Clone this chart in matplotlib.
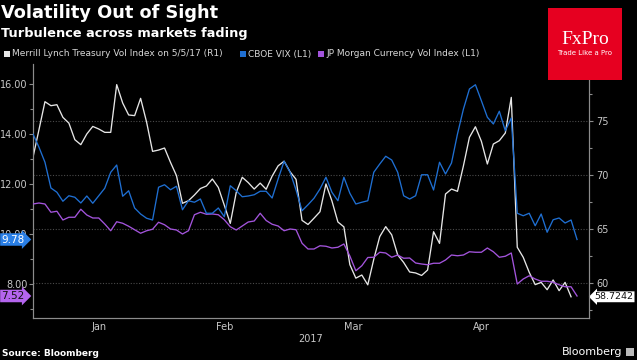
import matplotlib
matplotlib.use("Agg")
import matplotlib.pyplot as plt
from matplotlib.patches import Rectangle
from matplotlib.ticker import FixedLocator, NullFormatter

# ---- data (business-day index from 2 Jan 2017) ----
treasury_vol = [71.64, 74.2, 76.79, 76.42, 76.51, 75.34, 74.81, 73.27, 72.81, 73.8,
                74.5, 74.26, 73.95, 73.95, 78.37, 76.67, 75.56, 75.5, 77.1, 74.9,
                72.19, 72.31, 72.5, 71.17, 69.94, 67.38, 67.62, 68.15, 68.75, 68.98,
                69.63, 68.85, 67.2, 65.52, 68.4, 69.79, 69.3, 68.7, 69.25, 68.68,
                69.9, 70.85, 71.28, 70.3, 69.6, 65.8, 65.42, 66.0, 66.6, 69.17,
                67.6, 65.65, 65.2, 61.7, 60.45, 60.74, 59.83, 62.2, 64.3, 65.22,
                64.46, 62.6, 61.9, 61.02, 60.93, 60.7, 61.2, 64.75, 63.67, 68.24,
                68.7, 68.49, 70.86, 73.49, 74.47, 73.12, 71.02, 72.87, 73.18, 73.89,
                77.19, 63.31, 62.38, 60.99, 59.85, 60.06, 59.38, 60.28, 59.29, 60.06,
                58.7242]
vix = [14.0, 13.47, 12.87, 11.84, 11.67, 11.31, 11.53, 11.47, 11.24, 11.52,
       11.23, 11.53, 11.83, 12.47, 12.76, 11.51, 11.73, 11.04, 10.8, 10.63,
       10.56, 11.87, 11.97, 11.77, 11.91, 10.97, 11.33, 11.27, 11.4, 10.83,
       10.83, 11.04, 10.69, 11.93, 11.73, 11.49, 11.52, 11.57, 11.71, 11.71,
       11.44, 12.2, 12.91, 12.47, 11.76, 10.93, 11.17, 11.43, 11.8, 12.27,
       11.67, 11.33, 12.27, 11.63, 11.2, 11.27, 11.33, 12.47, 12.8, 13.11,
       12.96, 12.47, 11.53, 11.4, 11.53, 12.37, 12.37, 11.76, 12.87, 12.4,
       12.84, 14.0, 15.0, 15.8, 15.97, 15.33, 14.67, 14.4, 14.91, 14.13,
       14.64, 10.83, 10.73, 10.83, 10.33, 10.8, 10.07, 10.57, 10.64, 10.44,
       10.56, 9.78]
fx_vol = [11.2, 11.24, 11.2, 10.87, 10.91, 10.56, 10.67, 10.67, 10.99, 10.76,
          10.64, 10.64, 10.4, 10.13, 10.49, 10.43, 10.31, 10.17, 10.03, 10.13,
          10.19, 10.47, 10.37, 10.2, 10.16, 10.0, 10.13, 10.77, 10.87, 10.79,
          10.8, 10.77, 10.57, 10.29, 10.16, 10.32, 10.48, 10.52, 10.83, 10.54,
          10.39, 10.32, 10.13, 10.2, 10.17, 9.63, 9.4, 9.4, 9.53, 9.51,
          9.44, 9.47, 9.6, 9.12, 8.53, 8.73, 9.06, 9.07, 9.27, 9.24,
          9.07, 9.16, 9.03, 9.04, 8.84, 8.8, 8.77, 8.83, 8.83, 8.96,
          9.16, 9.13, 9.16, 9.29, 9.27, 9.27, 9.44, 9.29, 9.07, 9.11,
          9.24, 8.0, 8.2, 8.33, 8.2, 8.11, 8.11, 8.07, 7.97, 7.89,
          7.89, 7.52]
month_bounds = [22, 42, 65, 85]
month_centers = [11, 32, 53.5, 75]
month_labels = ["Jan", "Feb", "Mar", "Apr"]
left_ticks = [8, 10, 12, 14, 16]
left_minor = [7, 9, 11, 13, 15]
right_ticks = [60, 65, 70, 75]
right_minor = [57.5, 62.5, 67.5, 72.5, 77.5]

W, H = 637, 360
def fx(x): return x / W
def fy(y): return 1 - y / H

C_WHITE = "#e6e6e6"
C_BLUE = "#1f6fd2"
C_PURPLE = "#a354dc"
C_TICK = "#c8c8c8"
C_SPINE = "#8c8c8c"

fig = plt.figure(figsize=(W / 100, H / 100), dpi=100, facecolor="black")
ax2 = fig.add_axes([fx(33), fy(318), fx(589) - fx(33), fy(64) - fy(318)])
ax = ax2.twinx()
ax.set_zorder(ax2.get_zorder() + 1)
ax.patch.set_visible(False)
ax2.set_facecolor("black")

ax2.plot(range(len(treasury_vol)), treasury_vol, color=C_WHITE, lw=0.95, zorder=3)
ax.plot(range(len(fx_vol)), fx_vol, color=C_PURPLE, lw=0.95, zorder=3)
ax.plot(range(len(vix)), vix, color=C_BLUE, lw=0.95, zorder=4)

# ax carries the left (L1) scale, ax2 the right (R1) scale
ax.yaxis.tick_left()
ax.yaxis.set_label_position("left")
ax2.yaxis.tick_right()
ax2.yaxis.set_label_position("right")

ax.set_xlim(0, 93)
ax.set_ylim(6.64, 16.8)
ax2.set_ylim(56.76, 80.28)

for a in (ax, ax2):
    for s in a.spines.values():
        s.set_color(C_SPINE)
        s.set_linewidth(0.8)
    a.spines["top"].set_visible(False)

ax.yaxis.set_major_locator(FixedLocator(left_ticks))
ax.yaxis.set_minor_locator(FixedLocator(left_minor))
ax.set_yticklabels(["%.2f" % v for v in left_ticks])
ax.tick_params(axis="y", which="major", direction="out", length=3, width=0.8,
               colors=C_SPINE, labelcolor=C_TICK, labelsize=7, pad=1)
ax.tick_params(axis="y", which="minor", direction="out", length=2, width=0.8, colors=C_SPINE)

ax2.yaxis.set_major_locator(FixedLocator(right_ticks))
ax2.yaxis.set_minor_locator(FixedLocator(right_minor))
ax2.set_yticklabels([str(v) for v in right_ticks])
ax2.tick_params(axis="y", which="major", direction="out", length=3, width=0.8,
                colors=C_SPINE, labelcolor=C_TICK, labelsize=7, pad=2)
ax2.tick_params(axis="y", which="minor", direction="out", length=2, width=0.8, colors=C_SPINE)
ax2.grid(axis="y", which="major", color="#4a4a4a", linestyle=(0, (1, 1.5)), linewidth=0.8)

ax2.xaxis.set_major_locator(FixedLocator(month_bounds))
ax2.xaxis.set_major_formatter(NullFormatter())
ax2.xaxis.set_minor_locator(FixedLocator(month_centers))
ax2.set_xticklabels(month_labels, minor=True)
ax2.tick_params(axis="x", which="major", direction="out", length=4, width=0.8, colors=C_SPINE)
ax2.tick_params(axis="x", which="minor", length=0, labelcolor=C_TICK, labelsize=7, pad=3)
ax2.grid(axis="x", which="major", color="#4a4a4a", linestyle=(0, (1, 1.5)), linewidth=0.8)
ax.set_xticks([])
ax2.set_xlabel("2017", color=C_TICK, fontsize=7, labelpad=1)

# end-value labels
ax.annotate("%.2f" % vix[-1], xy=(0, vix[-1]), xycoords=ax.get_yaxis_transform(),
            xytext=(-6, 0), textcoords="offset points", ha="right", va="center",
            fontsize=7.5, color="white", zorder=10, annotation_clip=False,
            bbox=dict(boxstyle="rarrow,pad=0.12", fc="#2a7fe6", ec="none"))
ax.annotate("%.2f" % fx_vol[-1], xy=(0, fx_vol[-1]), xycoords=ax.get_yaxis_transform(),
            xytext=(-6, 0), textcoords="offset points", ha="right", va="center",
            fontsize=7.5, color="#111111", zorder=10, annotation_clip=False,
            bbox=dict(boxstyle="rarrow,pad=0.12", fc="#b465ee", ec="none"))
ax2.annotate("%.4f" % treasury_vol[-1], xy=(1, treasury_vol[-1]), xycoords=ax2.get_yaxis_transform(),
             xytext=(4, 0), textcoords="offset points", ha="left", va="center",
             fontsize=6.8, color="#111111", zorder=10, annotation_clip=False,
             bbox=dict(boxstyle="larrow,pad=0.1", fc="white", ec="none"))

# titles
fig.text(fx(1), fy(13), "Volatility Out of Sight", color="white", fontsize=12.8,
         fontweight="bold", ha="left", va="center")
fig.text(fx(1), fy(33), "Turbulence across markets fading", color="white", fontsize=9.3,
         fontweight="bold", ha="left", va="center")

# legend
legend_items = [("Merrill Lynch Treasury Vol Index on 5/5/17 (R1)", C_WHITE, 4),
                ("CBOE VIX (L1)", C_BLUE, 240),
                ("JP Morgan Currency Vol Index (L1)", C_PURPLE, 318)]
for label, col, x0 in legend_items:
    fig.patches.append(Rectangle((fx(x0), fy(57)), fx(6), 6 / H, transform=fig.transFigure,
                                 fc=col, ec="none"))
    fig.text(fx(x0 + 8), fy(54), label, color="#d8d8d8", fontsize=6.5, ha="left", va="center")

# footer
fig.text(fx(2), fy(353), "Source: Bloomberg", color="white", fontsize=6.5,
         fontweight="bold", ha="left", va="center")
fig.text(fx(622), fy(352), "Bloomberg", color="white", fontsize=8, ha="right", va="center")
fig.patches.append(Rectangle((fx(626), fy(356)), fx(8), 8 / H, transform=fig.transFigure,
                             fc="#bbbbbb", ec="none"))

# FxPro logo
fig.patches.append(Rectangle((fx(548), fy(80)), fx(74), 72 / H, transform=fig.transFigure,
                             fc="#e60020", ec="none", zorder=20))
fig.text(fx(585), fy(40), "FxPro", color="white", fontsize=14,
         family=["Liberation Serif", "DejaVu Serif"], ha="center", va="center", zorder=21)
fig.text(fx(585), fy(53), "Trade Like a Pro", color="white", fontsize=5,
         ha="center", va="center", zorder=21)

fig.savefig("out.png", dpi=100, facecolor="black")
